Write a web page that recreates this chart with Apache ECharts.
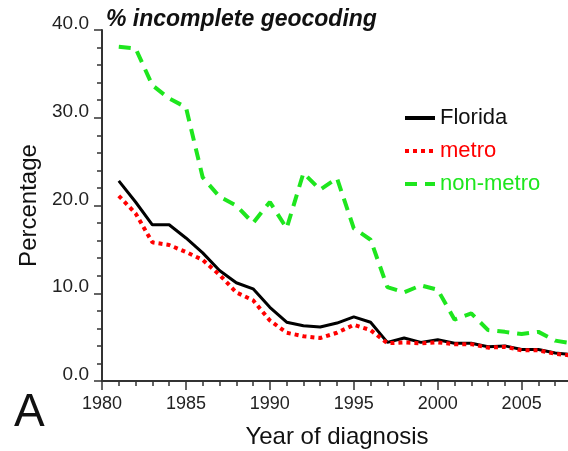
<!DOCTYPE html>
<html>
<head>
<meta charset="utf-8">
<script src="https://cdn.jsdelivr.net/npm/echarts@6/dist/echarts.min.js"></script>
<style>
  html, body { margin: 0; padding: 0; background: #fff; }
  #chart { width: 568px; height: 451px; }
</style>
</head>
<body>
<div id="chart"></div>
<script>
  // values, one per year 1981..2008
  const years = [1981, 1982, 1983, 1984, 1985, 1986, 1987, 1988, 1989, 1990,
    1991, 1992, 1993, 1994, 1995, 1996, 1997, 1998, 1999, 2000,
    2001, 2002, 2003, 2004, 2005, 2006, 2007, 2008]
  const florida = [22.8, 20.4, 17.8, 17.8, 16.3, 14.6, 12.6, 11.2, 10.5, 8.4,
    6.7, 6.3, 6.15, 6.6, 7.3, 6.7, 4.4, 4.9, 4.4, 4.7,
    4.3, 4.3, 3.9, 4.0, 3.6, 3.6, 3.2, 3.0]
  const metro = [21.1, 19.1, 15.8, 15.5, 14.7, 13.8, 12.1, 10.1, 9.2, 6.9,
    5.5, 5.1, 4.9, 5.5, 6.4, 5.8, 4.3, 4.4, 4.3, 4.4,
    4.2, 4.2, 3.8, 3.9, 3.5, 3.5, 3.1, 2.9]
  const nonMetro = [38.1, 37.9, 33.7, 32.2, 31.2, 23.2, 21.0, 20.0, 18.0, 20.4,
    17.4, 23.7, 21.8, 23.1, 17.4, 16.1, 10.7, 10.1, 10.9, 10.4,
    7.0, 7.7, 5.8, 5.6, 5.35, 5.6, 4.6, 4.3]
  const yTicks = [0, 10, 20, 30, 40]

  const fontFamily = '"Liberation Sans", Arial, sans-serif'
  const green = '#1ee61e'

  const pairs = (vals) => years.map((y, i) => [y, vals[i]])

  let chart = echarts.init(document.getElementById('chart'), null, {renderer: 'canvas'})

  let option = {
    animation: false,
    backgroundColor: '#fff',
    textStyle: { fontFamily: fontFamily },
    title: {
      text: '% incomplete geocoding',
      left: 101,
      top: 3,
      textStyle: {
        fontFamily: fontFamily,
        fontSize: 23,
        fontWeight: 'bold',
        fontStyle: 'italic',
        color: '#111'
      }
    },
    legend: {
      orient: 'vertical',
      left: 403,
      top: 107,
      padding: 0,
      itemWidth: 30,
      itemHeight: 14,
      itemGap: 11,
      itemStyle: { opacity: 0 },
      lineStyle: { width: 4 },
      textStyle: { fontSize: 22, fontFamily: fontFamily },
      data: [
        { name: 'Florida', textStyle: { color: '#111' } },
        { name: 'metro', textStyle: { color: '#ff0000' } },
        { name: 'non-metro', textStyle: { color: green } }
      ]
    },
    graphic: [
      {
        type: 'text',
        left: 14,
        top: 390,
        style: { text: 'A', fontSize: 46, fontFamily: fontFamily, fill: '#111' }
      }
    ],
    grid: { left: 102, right: -4, top: 30, bottom: 70, outerBoundsMode: 'none', containLabel: false },
    xAxis: {
      type: 'value',
      min: 1980,
      max: 2008,
      interval: 5,
      name: 'Year of diagnosis',
      nameLocation: 'middle',
      nameGap: 44,
      nameTextStyle: { fontSize: 24, color: '#111', fontFamily: fontFamily },
      axisLine: { lineStyle: { color: '#333', width: 2 } },
      axisTick: { show: true, length: 9, lineStyle: { color: '#333', width: 1.5 } },
      minorTick: { show: true, splitNumber: 5, length: 5, lineStyle: { color: '#333', width: 1.5 } },
      splitLine: { show: false },
      axisLabel: {
        margin: 14,
        fontSize: 18,
        color: '#222',
        formatter: (v) => (v % 5 === 0 ? String(v) : '')
      }
    },
    yAxis: {
      type: 'value',
      min: yTicks[0],
      max: yTicks[yTicks.length - 1],
      interval: 10,
      name: 'Percentage',
      nameLocation: 'middle',
      nameGap: 59,
      nameTextStyle: { fontSize: 24, color: '#111', fontFamily: fontFamily },
      axisLine: { show: true, lineStyle: { color: '#333', width: 2 } },
      axisTick: { show: true, length: 8, lineStyle: { color: '#333', width: 1.5 } },
      minorTick: { show: true, splitNumber: 5, length: 5, lineStyle: { color: '#333', width: 1.5 } },
      splitLine: { show: false },
      axisLabel: {
        margin: 13,
        fontSize: 19,
        lineHeight: 12,
        color: '#222',
        verticalAlign: 'bottom',
        formatter: (v) => v.toFixed(1)
      }
    },
    series: [
      {
        name: 'non-metro',
        type: 'line',
        symbol: 'none',
        data: pairs(nonMetro),
        lineStyle: { color: green, width: 4, type: [12, 8] },
        itemStyle: { color: green }
      },
      {
        name: 'Florida',
        type: 'line',
        symbol: 'none',
        data: pairs(florida),
        lineStyle: { color: '#000', width: 3 },
        itemStyle: { color: '#000' }
      },
      {
        name: 'metro',
        type: 'line',
        symbol: 'none',
        data: pairs(metro),
        lineStyle: { color: '#ff0000', width: 4, type: [4, 4] },
        itemStyle: { color: '#ff0000' }
      }
    ]
  }

  chart.setOption(option)
</script>
</body>
</html>
